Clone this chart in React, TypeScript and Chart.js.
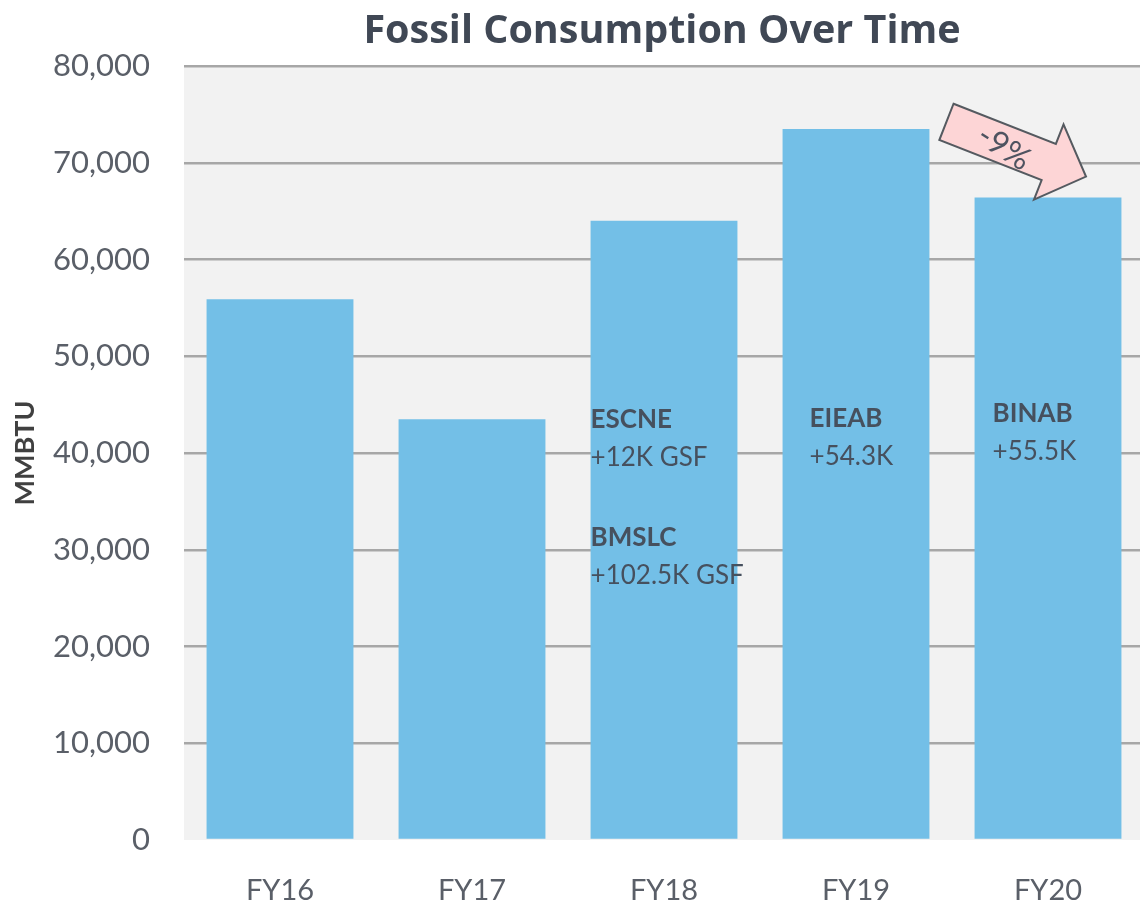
import React, { useEffect, useRef } from "react";
import { Chart, registerables } from "chart.js";

Chart.register(...registerables);

const categories = ["FY16", "FY17", "FY18", "FY19", "FY20"];
const consumption = [55900, 43500, 64000, 73500, 66400];
const yMin = 0;
const yMax = 80000;
const yStep = 10000;
const chartTitle = "Fossil Consumption Over Time";
const yAxisTitle = "MMBTU";
const changeLabel = "-9%";

// annotation notes: category index, x offset from bar left (px), y value of first line, lines
const noteCategory = [2, 2, 3, 4];
const noteOffset = [0, 0, 27, 18];
const noteValue = [43400, 31300, 43600, 44100];
const noteHeads = ["ESCNE", "BMSLC", "EIEAB", "BINAB"];
const noteSubs = ["+12K GSF", "+102.5K GSF", "+54.3K", "+55.5K"];

const FONT = "Lato, 'Open Sans', sans-serif";
const TITLE_FONT = "'Open Sans', Lato, sans-serif";
const BAR = "#73bfe7";
const TEXT = "#46505e";

const bgPlugin = {
  id: "plotBg",
  beforeDraw(chart: any) {
    const { ctx, chartArea } = chart;
    ctx.save();
    ctx.fillStyle = "#f2f2f2";
    ctx.fillRect(chartArea.left, chartArea.top, chartArea.right - chartArea.left, chartArea.bottom - chartArea.top);
    ctx.restore();
  },
};

const overlayPlugin = {
  id: "overlay",
  afterDraw(chart: any) {
    const { ctx, chartArea, scales } = chart;
    const y = scales.y;
    ctx.save();
    // title
    ctx.fillStyle = "#404855";
    ctx.font = `bold 39.5px ${TITLE_FONT}`;
    ctx.textAlign = "center";
    ctx.textBaseline = "middle";
    ctx.fillText(chartTitle, (chartArea.left + chartArea.right) / 2 - 2, 32);

    // notes
    const meta = chart.getDatasetMeta(0);
    ctx.textAlign = "left";
    for (let i = 0; i < noteHeads.length; i++) {
      const bar = meta.data[noteCategory[i]];
      const left = bar.x - bar.width / 2 + noteOffset[i];
      const yy = y.getPixelForValue(noteValue[i]);
      ctx.fillStyle = TEXT;
      ctx.font = `bold 26px ${FONT}`;
      ctx.fillText(noteHeads[i], left, yy);
      ctx.font = `26px ${FONT}`;
      ctx.fillText(noteSubs[i], left, yy + 38);
    }

    // change arrow from FY19 to FY20
    const b3 = meta.data[3];
    const b4 = meta.data[4];
    const sx = b3.x + b3.width / 2 + 17;
    const sy = y.getPixelForValue(consumption[3]) - 7;
    const ex = b4.x + 38;
    const ey = y.getPixelForValue(consumption[4]) - 21;
    const ang = Math.atan2(ey - sy, ex - sx);
    const len = Math.hypot(ex - sx, ey - sy);
    const hw = 19.5;
    const headL = 40;
    const headW = 40.5;
    ctx.translate(sx, sy);
    ctx.rotate(ang);
    ctx.beginPath();
    ctx.moveTo(0, -hw);
    ctx.lineTo(len - headL, -hw);
    ctx.lineTo(len - headL, -headW);
    ctx.lineTo(len, 0);
    ctx.lineTo(len - headL, headW);
    ctx.lineTo(len - headL, hw);
    ctx.lineTo(0, hw);
    ctx.closePath();
    ctx.fillStyle = "#fdd5d6";
    ctx.fill();
    ctx.strokeStyle = "#555a60";
    ctx.lineWidth = 2;
    ctx.stroke();
    ctx.translate(63, 3);
    ctx.rotate(0.2);
    ctx.fillStyle = "#4e5360";
    ctx.font = `32px ${FONT}`;
    ctx.textAlign = "center";
    ctx.textBaseline = "middle";
    ctx.fillText(changeLabel, 0, 0);
    ctx.restore();
  },
};

export default function App() {
  const ref = useRef<HTMLCanvasElement>(null);
  useEffect(() => {
    if (!ref.current) return;
    const chart = new Chart(ref.current, {
      type: "bar",
      data: {
        labels: categories,
        datasets: [
          {
            data: consumption,
            backgroundColor: BAR,
            borderWidth: 0,
            barPercentage: 0.765,
            categoryPercentage: 1,
          },
        ],
      },
      options: {
        responsive: false,
        animation: false,
        layout: { padding: { top: 66, left: 0, right: 0, bottom: 0 } },
        plugins: { legend: { display: false }, tooltip: { enabled: false }, title: { display: false } },
        scales: {
          x: {
            grid: { display: false },
            border: { display: false },
            ticks: { font: { family: FONT, size: 29 }, color: "#5a5f68", padding: 25 },
            afterFit(scale: any) {
              scale.height = 66;
            },
          },
          y: {
            min: yMin,
            max: yMax,
            border: { display: false },
            grid: {
              drawTicks: false,
              lineWidth: 2.5,
              color: (c: any) => (c.tick && c.tick.value === 0 ? "rgba(0,0,0,0)" : "#a7a7a7"),
            },
            ticks: {
              stepSize: yStep,
              padding: 34,
              font: { family: FONT, size: 31 },
              color: "#5a5f68",
              callback: (v: any) => Number(v).toLocaleString("en-US"),
            },
            title: {
              display: true,
              text: yAxisTitle,
              font: { family: FONT, size: 27, weight: "bold" },
              color: "#404040",
              padding: { top: 9, bottom: 0 },
            },
            afterFit(scale: any) {
              scale.width = 184;
            },
          },
        },
      },
      plugins: [bgPlugin, overlayPlugin],
    });
    return () => chart.destroy();
  }, []);
  return (
    <div style={{ position: "fixed", left: 0, top: 0, width: 1140, height: 906, overflow: "hidden", background: "#fff" }}>
      <canvas ref={ref} width={1144} height={906} style={{ display: "block", width: 1144, height: 906 }} />
    </div>
  );
}
